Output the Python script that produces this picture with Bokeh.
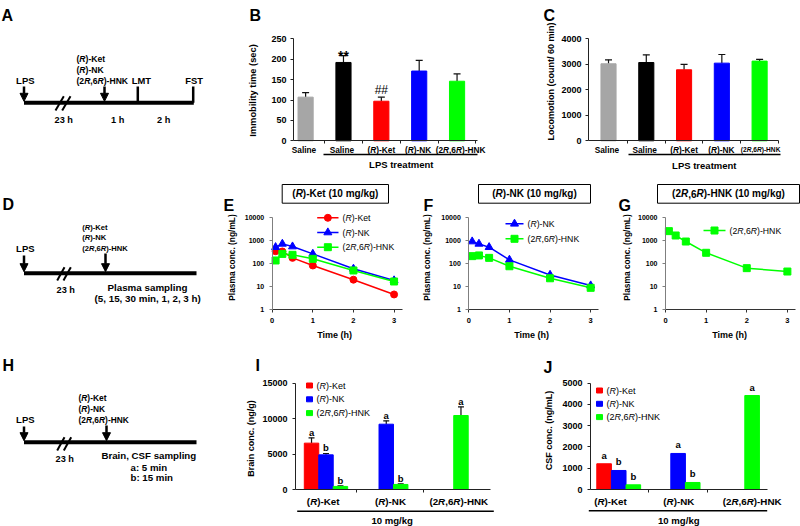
import math
from bokeh.plotting import figure
from bokeh.models import (Range1d, Label, Arrow, NormalHead, TeeHead, Whisker,
                          ColumnDataSource, FixedTicker, NumeralTickFormatter, CustomJSTickFormatter,
                          LinearScale)
from bokeh.layouts import row, column
from bokeh.core.properties import value
from bokeh.embed import file_html
from bokeh.resources import INLINE

FONT = "Liberation Sans"

# ---------------- data ----------------
bc_groups = ["Saline", "Saline", "(*R*)-Ket", "(*R*)-NK", "(2*R*,6*R*)-HNK"]
bc_colors = ["#a6a6a6", "#000000", "#ff0000", "#0000ff", "#00ff00"]
immobility = [107, 192, 97, 171, 146]
immobility_err = [11, 17, 10, 26, 18]
immobility_sig = ["", "**", "##", "", ""]
locomotion = [3020, 3070, 2785, 3045, 3125]
locomotion_err = [155, 300, 210, 340, 65]

pk_time = [5 / 60, 15 / 60, 30 / 60, 1, 2, 3]
e_ket = [340, 330, 175, 82, 20, 4.6]
e_nk = [505, 705, 540, 260, 59, 18.5]
e_hnk = [135, 260, 237, 159, 50, 16.7]
f_nk = [890, 705, 505, 144, 32, 11.2]
f_hnk = [208, 223, 175, 76, 23, 8.9]
g_hnk = [2500, 1620, 890, 290, 63, 45]

ij_groups = ["(*R*)-Ket", "(*R*)-NK", "(2*R*,6*R*)-HNK"]
brain_ket = [6540, None, None]
brain_ket_err = [750, None, None]
brain_ket_sig = ["a", None, None]
brain_nk = [4890, 9215, None]
brain_nk_err = [190, 470, None]
brain_nk_sig = ["b", "a", None]
brain_hnk = [430, 710, 10440]
brain_hnk_err = [90, 90, 1220]
brain_hnk_sig = ["b", "b", "a"]
csf_ket = [1210, None, None]
csf_ket_sig = ["a", None, None]
csf_nk = [895, 1695, None]
csf_nk_sig = ["b", "a", None]
csf_hnk = [220, 330, 4420]
csf_hnk_sig = ["b", "b", "a"]

# ---------------- text metrics (Arial / Liberation Sans) ----------------
BOLD_W = {" ": 278, "(": 333, ")": 333, "-": 333, ",": 278, ".": 278, "/": 278, ":": 333,
          "R": 722, "K": 722, "N": 722, "H": 722, "e": 556, "t": 333, "m": 889, "g": 611, "k": 556}
REG_W = {" ": 278, "(": 333, ")": 333, "-": 333, ",": 278, "R": 722, "K": 667, "N": 722,
         "H": 722, "e": 556, "t": 278}


def tw(s, size, weight):
    tab = BOLD_W if weight == "bold" else REG_W
    return sum(tab.get(c, 556) for c in s) * size / 1000.0


class Panel:
    def __init__(self, p, x0, y1):
        self.p, self.x0, self.y1 = p, x0, y1


def new_panel(box, frame=None, xd=None, yd=None, log=False):
    """Figure whose frame is the whole canvas; data ranges are chosen so that the
    data area (xd x yd) occupies the rectangle `frame` (page pixels)."""
    x0, y0, x1, y1 = box
    if frame is None:
        xr, yr = Range1d(x0, x1), Range1d(y1, y0)
    else:
        fl, ft, fr, fb = frame
        xa, xb = xd
        ya, yb = yd

        def fx(X):
            return xa + (X - fl) * (xb - xa) / (fr - fl)
        xr = Range1d(fx(x0), fx(x1))
        if log:
            la, lb = math.log10(ya), math.log10(yb)

            def fy(Y):
                return 10 ** (la + (fb - Y) * (lb - la) / (fb - ft))
        else:
            def fy(Y):
                return ya + (fb - Y) * (yb - ya) / (fb - ft)
        yr = Range1d(fy(y1), fy(y0))
    kw = {}
    if frame is None:
        kw = dict(x_axis_location=None, y_axis_location=None)
    p = figure(width=x1 - x0, height=y1 - y0, x_range=xr, y_range=yr,
               y_axis_type="log" if log else "linear", title=None,
               output_backend="svg", toolbar_location=None, min_border=0,
               extra_x_ranges={"px": Range1d(x0, x1)}, extra_y_ranges={"px": Range1d(y1, y0)},
               extra_x_scales={"px": LinearScale()}, extra_y_scales={"px": LinearScale()}, **kw)
    p.outline_line_color = None
    p.grid.visible = False
    if frame is not None:
        p.yaxis[0].fixed_location = xd[0]
        p.yaxis[0].bounds = yd
        p.xaxis[0].fixed_location = yd[0]
        p.xaxis[0].bounds = xd
    return Panel(p, x0, y1)


def label(P, X, Y, text, size, style="bold", align="left", baseline="middle", angle=0.0,
          xdata=None, xoff=0.0, color="black"):
    kw = dict(y=P.y1 - Y, y_units="screen", text=text, text_font=FONT,
              text_font_size=f"{size}px", text_font_style=style, text_align=align,
              text_baseline=baseline, angle=angle, text_color=color, x_offset=xoff)
    if xdata is None:
        kw.update(x=X - P.x0, x_units="screen")
    else:
        kw.update(x=xdata, x_units="data")
    P.p.add_layout(Label(**kw))


def rich(P, X, Y, markup, size, weight="bold", align="center", xdata=None, shift=0.0):
    parts = markup.split("*")
    segs = [(t, i % 2 == 1) for i, t in enumerate(parts) if t]
    ws = [tw(t, size, weight) for t, _ in segs]
    off = {"left": 0.0, "center": -sum(ws) / 2, "right": -sum(ws)}[align] + shift
    for (t, it), w in zip(segs, ws):
        if weight == "bold":
            style = "bold italic" if it else "bold"
        else:
            style = "italic" if it else "normal"
        label(P, X, Y, t, size, style, "left", "middle", xdata=xdata, xoff=off)
        off += w


def pxline(P, xs, ys, w=1.5, color="black"):
    P.p.line(xs, ys, line_width=w, color=color, x_range_name="px", y_range_name="px")


def tbox(P, X0, Y0, X1, Y1):
    P.p.quad(left=[X0], right=[X1], top=[Y0], bottom=[Y1], fill_color="white",
             line_color="black", line_width=1, x_range_name="px", y_range_name="px")


def style_axis(ax, size, color="#222222", standoff=4):
    ax.axis_line_color = color
    ax.axis_line_width = 1
    ax.major_tick_line_color = color
    ax.minor_tick_line_color = None
    ax.major_tick_in = 0
    ax.major_tick_out = 3
    ax.major_label_text_font = FONT
    ax.major_label_text_font_size = f"{size}px"
    ax.major_label_text_font_style = "bold"
    ax.major_label_text_color = "black"
    ax.major_label_standoff = standoff


def letter(P, X, Y, t):
    label(P, X, Y, t, 16, "bold", "left", "alphabetic")


def ytitle(P, X, Y, t, size):
    label(P, X, Y, t, size, "bold", "center", "middle", angle=math.pi / 2)


# ---------------- schematic panels ----------------
def schematic(box, lt, lt_xy, y_line, x_end, lps_y, arr_top, drug_x, drug_left, drug_ys, drug_size,
              slashes, h23):
    P = new_panel(box)
    p = P.p
    letter(P, lt_xy[0], lt_xy[1], lt)
    p.line([23.5, x_end], [y_line, y_line], line_width=4, color="black")
    for (a, b) in slashes:
        p.line([a[0], b[0]], [a[1], b[1]], line_width=2, color="black")
    for ax_, top in [(23.5, arr_top[0]), (drug_x, arr_top[1])]:
        p.add_layout(Arrow(x_start=ax_, y_start=top, x_end=ax_, y_end=y_line - 1.5,
                           line_width=2.5, line_color="black",
                           end=NormalHead(size=8, fill_color="black", line_color="black")))
    rich(P, 23.5, lps_y, "LPS", 9.5)
    rich(P, h23[0], h23[1], "23 h", 9.2)
    for t, yy in zip(["(*R*)-Ket", "(*R*)-NK", "(2*R*,6*R*)-HNK"], drug_ys):
        rich(P, drug_left, yy, t, drug_size, align="left")
    return P


PA = schematic((0, 0, 245, 170), "A", (1, 14.5), 102.3, 193.3, 80, (86, 86), 104, 76,
               [58.3, 69.3, 80], 8.6, [((55, 110), (63.3, 95.7)), ((61.7, 110), (70, 95.7))], (63, 119))
for xx in [137.3, 192.7]:
    PA.p.line([xx, xx], [86, 102.3], line_width=2.5, color="black")
rich(PA, 139, 80, "LMT", 9.4)
rich(PA, 192.5, 80, "FST", 9.4)
rich(PA, 117, 119, "1 h", 9.2)
rich(PA, 163, 119, "2 h", 9.2)

PD = schematic((0, 170, 222, 340), "D", (2, 204), 272.7, 196, 247.7, (255, 253), 105, 81.7,
               [226.7, 236.7, 247.7], 7.6, [((56.7, 280), (64, 266.7)), ((63, 280), (70.3, 266.7))],
               (65, 289))
rich(PD, 150, 287.3, "Plasma sampling", 9.8)
rich(PD, 148, 298.3, "(5, 15, 30 min, 1, 2, 3 h)", 9.8)

PH = schematic((0, 340, 245, 526), "H", (2, 365), 441.7, 196, 419, (426, 425), 106, 78,
               [397, 408, 419], 8.4, [((56.7, 450), (64, 436.7)), ((63.3, 450), (70.7, 436.7))],
               (64, 458))
rich(PH, 150, 455, "Brain, CSF sampling", 9.7)
rich(PH, 130, 466.7, "a: 5 min", 9.7, align="left")
rich(PH, 130, 476.7, "b: 15 min", 9.7, align="left")


# ---------------- B / C bar panels ----------------
def bc_panel(box, frame, xr, ymax, ystep, vals, errs, lt, lt_xy, yt, yt_xy, yt_size, uline, lps_xy,
             cat_sizes, cat_shift):
    P = new_panel(box, frame, xr, (0, ymax))
    p = P.p
    xs = [i + 1 for i in range(len(bc_groups))]
    src = ColumnDataSource(dict(x=xs, top=vals, up=[v + e for v, e in zip(vals, errs)], color=bc_colors))
    p.vbar(x="x", top="top", width=0.4, color="color", source=src)
    p.add_layout(Whisker(source=src, base="x", lower="top", upper="up", lower_head=None,
                         upper_head=TeeHead(size=7, line_color="#111111", line_width=1.2),
                         line_color="#111111", line_width=1.2))
    style_axis(p.yaxis[0], 9, standoff=4)
    p.yaxis.ticker = FixedTicker(ticks=list(range(0, ymax + 1, ystep)))
    p.yaxis.formatter = NumeralTickFormatter(format="0")
    style_axis(p.xaxis[0], 9)
    p.xaxis.ticker = FixedTicker(ticks=[x + 0.5 for x in xs])
    p.xaxis.formatter = CustomJSTickFormatter(code="return ''")
    for x, g, sz, sh in zip(xs, bc_groups, cat_sizes, cat_shift):
        rich(P, 0, 149, g, sz, xdata=x, shift=sh)
    pxline(P, [uline[0], uline[1]], [154, 154], 1.5)
    rich(P, lps_xy[0], lps_xy[1], "LPS treatment", 9.5)
    letter(P, lt_xy[0], lt_xy[1], lt)
    ytitle(P, yt_xy[0], yt_xy[1], yt, yt_size)
    return P, xs


PB, xsB = bc_panel((245, 0, 532, 170), (293, 38.3, 477, 140.3), (0.68, 5.54), 250, 50,
                   immobility, immobility_err, "B", (249, 15), "Immobility time (sec)", (252, 90), 9.3,
                   (323, 477), (400, 164), [8.3] * 5, [0, 0, 0, -1, 3.5])
for x, v, e, s in zip(xsB, immobility, immobility_err, immobility_sig):
    if s == "**":
        PB.p.text(x=[x], y=[v + e], text=[s], text_font=value(FONT), text_font_size="14px",
                  text_font_style="bold", text_align="center", text_baseline="alphabetic")
    elif s == "##":
        PB.p.text(x=[x], y=[v + e], text=[s], text_font=value(FONT), text_font_size="12px",
                  text_font_style="normal", text_align="center", text_baseline="bottom")

PC, xsC = bc_panel((532, 0, 800, 170), (588, 38.3, 778, 140.3), (0.47, 5.5), 4000, 1000,
                   locomotion, locomotion_err, "C", (543, 15), "Locomotion (count/ 60 min)", (550, 81), 9,
                   (628, 780), (703, 164.7), [8.3, 8.3, 8.3, 8.3, 6.6], [0, 0, 0, -0.5, 1])


# ---------------- E / F / G PK panels ----------------
def pk_panel(box, frame, lt, lt_xy, title, tb, yt_x, series, legend, time_x):
    P = new_panel(box, frame, (0, 3.2), (1, 10000), log=True)
    p = P.p
    for vals, color, marker, ms, _ in series:
        p.line(pk_time, vals, color=color, line_width=1.5)
        p.scatter(pk_time, vals, marker=marker, size=ms, color=color)
    style_axis(p.yaxis[0], 7, color="#7f7f7f", standoff=5)
    p.yaxis.ticker = FixedTicker(ticks=[1, 10, 100, 1000, 10000])
    p.yaxis.formatter = NumeralTickFormatter(format="0")
    style_axis(p.xaxis[0], 7.5, color="#333333", standoff=5)
    p.xaxis.ticker = FixedTicker(ticks=[0, 1, 2, 3])
    (lx0, lx1, ly0, dy) = legend
    for k, (vals, color, marker, ms, name) in enumerate(series):
        yy = ly0 + k * dy
        pxline(P, [lx0, lx1], [yy, yy], 1.5, color)
        p.scatter([(lx0 + lx1) / 2], [yy], marker=marker, size=ms, color=color,
                  x_range_name="px", y_range_name="px")
        rich(P, lx1 + 4, yy, name, 8.7, weight="normal", align="left")
    tbox(P, tb[0], 184, tb[1], 202.7)
    rich(P, (tb[0] + tb[1]) / 2, 193.4, title, 10)
    letter(P, lt_xy[0], lt_xy[1], lt)
    ytitle(P, yt_x, 257, "Plasma conc. (ng/mL)", 8.4)
    rich(P, time_x, 334.3, "Time (h)", 9)
    return P


PE = pk_panel((222, 170, 418, 340), (271.7, 216.7, 401.7, 309.3), "E", (223, 205),
              "(*R*)-Ket (10 mg/kg)", (281.7, 388), 231.3,
              [(e_ket, "#ff0000", "circle", 7, "(*R*)-Ket"), (e_nk, "#0000ff", "triangle", 8, "(*R*)-NK"),
               (e_hnk, "#00ff00", "square", 7, "(2*R*,6*R*)-HNK")],
              (316.7, 338, 217.3, 14.7), 335)
PF = pk_panel((418, 170, 614, 340), (468.3, 216.7, 598.3, 309.3), "F", (423, 205),
              "(*R*)-NK (10 mg/kg)", (478, 590), 426.5,
              [(f_nk, "#0000ff", "triangle", 8, "(*R*)-NK"), (f_hnk, "#00ff00", "square", 7, "(2*R*,6*R*)-HNK")],
              (505, 523, 223.3, 15), 532)
PG = pk_panel((614, 170, 800, 340), (665, 216.7, 795, 309.3), "G", (618, 205),
              "(2*R*,6*R*)-HNK (10 mg/kg)", (657, 799), 626.3,
              [(g_hnk, "#00ff00", "square", 7, "(2*R*,6*R*)-HNK")],
              (703, 725, 230, 15), 730)


# ---------------- I / J concentration panels ----------------
def ij_panel(box, frame, xr, ymax, ystep, series, lt, lt_xy, yt, yt_xy, cat_x, uline, mg_x, leg, off,
             sig_lift):
    P = new_panel(box, frame, xr, (0, ymax))
    p = P.p
    for s, (name, color, vals, errs, sig) in enumerate(series):
        xs, tops, ups, lets = [], [], [], []
        for g, v in enumerate(vals):
            if v is None:
                continue
            xs.append(g + (s - 1) * off)
            tops.append(v)
            ups.append(v + (errs[g] if errs else 0))
            lets.append(sig[g])
        src = ColumnDataSource(dict(x=xs, top=tops, up=ups, sig=lets))
        p.vbar(x="x", top="top", width=off, color=color, source=src)
        if errs:
            p.add_layout(Whisker(source=src, base="x", lower="top", upper="up", lower_head=None,
                                 upper_head=TeeHead(size=6, line_color="#111111", line_width=1.2),
                                 line_color="#111111", line_width=1.2))
        p.text(x="x", y="up", text="sig", source=src, text_font=value(FONT), text_font_size="9.5px",
               text_font_style="bold", text_align="center", text_baseline="bottom", y_offset=sig_lift)
        yy = leg[1] + s * leg[2]
        p.rect([leg[0]], [yy], width=6, height=5, color=color, x_range_name="px", y_range_name="px")
        rich(P, leg[0] + 7, yy, name, 9, weight="normal", align="left")
    style_axis(p.yaxis[0], 9, standoff=5)
    p.yaxis.ticker = FixedTicker(ticks=list(range(0, ymax + 1, ystep)))
    p.yaxis.formatter = NumeralTickFormatter(format="0")
    style_axis(p.xaxis[0], 9)
    p.xaxis.formatter = CustomJSTickFormatter(code="return ''")
    for cx, g in zip(cat_x, ij_groups):
        rich(P, cx, 501, g, 9.8)
    pxline(P, [uline[0], uline[1]], [uline[2], uline[2]], 1.5)
    rich(P, mg_x, 519.5, "10 mg/kg", 9.6)
    letter(P, lt_xy[0], lt_xy[1], lt)
    ytitle(P, yt_xy[0], yt_xy[1], yt, 9)
    return P


PI = ij_panel((245, 340, 530, 526), (295, 382.7, 490, 489), (-0.506, 2.73), 15000, 5000,
              [("(*R*)-Ket", "#ff0000", brain_ket, brain_ket_err, brain_ket_sig),
               ("(*R*)-NK", "#0000ff", brain_nk, brain_nk_err, brain_nk_sig),
               ("(2*R*,6*R*)-HNK", "#00ff00", brain_hnk, brain_hnk_err, brain_hnk_sig)],
              "I", (255, 365), "Brain conc. (ng/g)", (250.7, 438), [322.7, 390, 458.3],
              (296.7, 493.3, 510.7), 391.7, (309, 385, 13.8), 0.24, 0)
PI.p.xaxis.ticker = FixedTicker(ticks=[0.506, 1.618])

PJ = ij_panel((530, 340, 800, 526), (590, 382.7, 767, 489), (-0.475, 2.505), 5000, 1000,
              [("(*R*)-Ket", "#ff0000", csf_ket, None, csf_ket_sig),
               ("(*R*)-NK", "#0000ff", csf_nk, None, csf_nk_sig),
               ("(2*R*,6*R*)-HNK", "#00ff00", csf_hnk, None, csf_hnk_sig)],
              "J", (543, 367), "CSF conc. (ng/mL)", (548.3, 430), [610, 678.3, 751.7],
              (588.3, 766.7, 510.3), 678.3, (599, 390, 13.3), 0.246, -3)
PJ.p.xaxis.ticker = FixedTicker(ticks=[0.5, 1.5])

layout = column(row(PA.p, PB.p, PC.p), row(PD.p, PE.p, PF.p, PG.p), row(PH.p, PI.p, PJ.p))

open("out.html", "w").write(file_html(layout, INLINE))
